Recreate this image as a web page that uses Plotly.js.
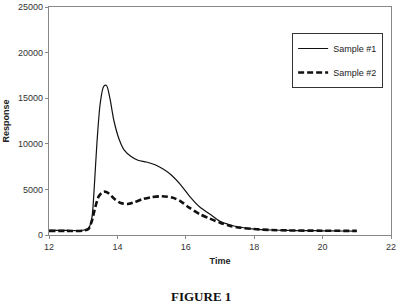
<!DOCTYPE html>
<html><head><meta charset="utf-8">
<script src="https://cdn.plot.ly/plotly-3.0.1.min.js"></script>
<style>html,body{margin:0;padding:0;background:#fff;}#chart{width:400px;height:308px;}</style>
</head><body><div id="chart"></div>
<script>
var time1 = [12, 12.5, 13.0, 13.15, 13.25, 13.32, 13.4, 13.5, 13.6, 13.68, 13.78, 13.9, 14.05, 14.2, 14.4, 14.6, 14.85, 15.1, 15.35, 15.6, 15.85, 16.1, 16.4, 16.7, 17.0, 17.3, 17.6, 18.0, 18.5, 19, 19.5, 20, 20.5, 21];
var sample1 = [500, 500, 520, 700, 1800, 5000, 10000, 14500, 16300, 16400, 15000, 12500, 10500, 9300, 8600, 8200, 8000, 7700, 7200, 6500, 5500, 4300, 3100, 2300, 1500, 1100, 850, 650, 550, 500, 480, 460, 440, 420];
var time2 = [12, 12.5, 13.0, 13.15, 13.25, 13.35, 13.45, 13.55, 13.65, 13.75, 13.9, 14.1, 14.3, 14.5, 14.75, 15.0, 15.3, 15.6, 15.85, 16.1, 16.4, 16.7, 17.0, 17.3, 17.6, 18, 18.5, 19, 20, 21];
var sample2 = [450, 450, 480, 650, 1500, 3000, 4200, 4650, 4750, 4550, 4000, 3500, 3400, 3600, 3950, 4150, 4250, 4100, 3700, 3000, 2300, 1800, 1350, 1000, 800, 650, 550, 500, 470, 450];
var seriesNames = ['Sample #1', 'Sample #2'];
var xTicks = [12, 14, 16, 18, 20, 22];
var yTicks = [0, 5000, 10000, 15000, 20000, 25000];

var traces = [
  {x: time1, y: sample1, name: seriesNames[0], mode: 'lines', legendgroup: 'a',
   line: {color: '#111', width: 1.2, shape: 'spline', smoothing: 0.8}},
  {x: time2, y: sample2, name: seriesNames[1], mode: 'lines', legendgroup: 'b',
   line: {color: '#111', width: 2.6, dash: '6px,3px', shape: 'spline', smoothing: 0.8}}
];
var axFont = {family: 'Liberation Sans, Arial, sans-serif', size: 9, color: '#333'};
var layout = {
  width: 400, height: 308,
  margin: {l: 49, r: 9, t: 7, b: 73},
  paper_bgcolor: '#fff', plot_bgcolor: '#fff',
  showlegend: true,
  legend: {x: 0.977, y: 0.886, xanchor: 'right', yanchor: 'top',
    bordercolor: '#333', borderwidth: 1, bgcolor: '#fff',
    font: {family: 'Liberation Sans, Arial, sans-serif', size: 9, color: '#222'},
    itemwidth: 30, traceorder: 'grouped', tracegroupgap: 5},
  xaxis: {range: [12, 22], tickvals: xTicks, ticktext: xTicks.map(String),
    showgrid: false, zeroline: false, showline: true, linecolor: '#888', linewidth: 1.2,
    mirror: true, ticks: 'outside', ticklen: 3, tickcolor: '#888', tickfont: axFont,
    title: {text: '<b>Time</b>', font: {family: 'Liberation Sans, Arial, sans-serif', size: 9, color: '#222'}, standoff: 6}},
  yaxis: {range: [0, 25000], tickvals: yTicks, ticktext: yTicks.map(String),
    showgrid: false, zeroline: false, showline: true, linecolor: '#888', linewidth: 1.2,
    mirror: true, ticks: 'outside', ticklen: 3, tickcolor: '#888', tickfont: axFont,
    title: {text: '<b>Response</b>', font: {family: 'Liberation Sans, Arial, sans-serif', size: 9, color: '#222'}, standoff: 6}},
  annotations: [{text: '<b>FIGURE 1</b>', xref: 'paper', yref: 'paper', x: 0.445, y: -0.27,
    xanchor: 'center', yanchor: 'middle', showarrow: false,
    font: {family: 'Liberation Serif, Times New Roman, serif', size: 13, color: '#111'}}]
};
Plotly.newPlot('chart', traces, layout, {displayModeBar: false, staticPlot: true});
</script></body></html>
